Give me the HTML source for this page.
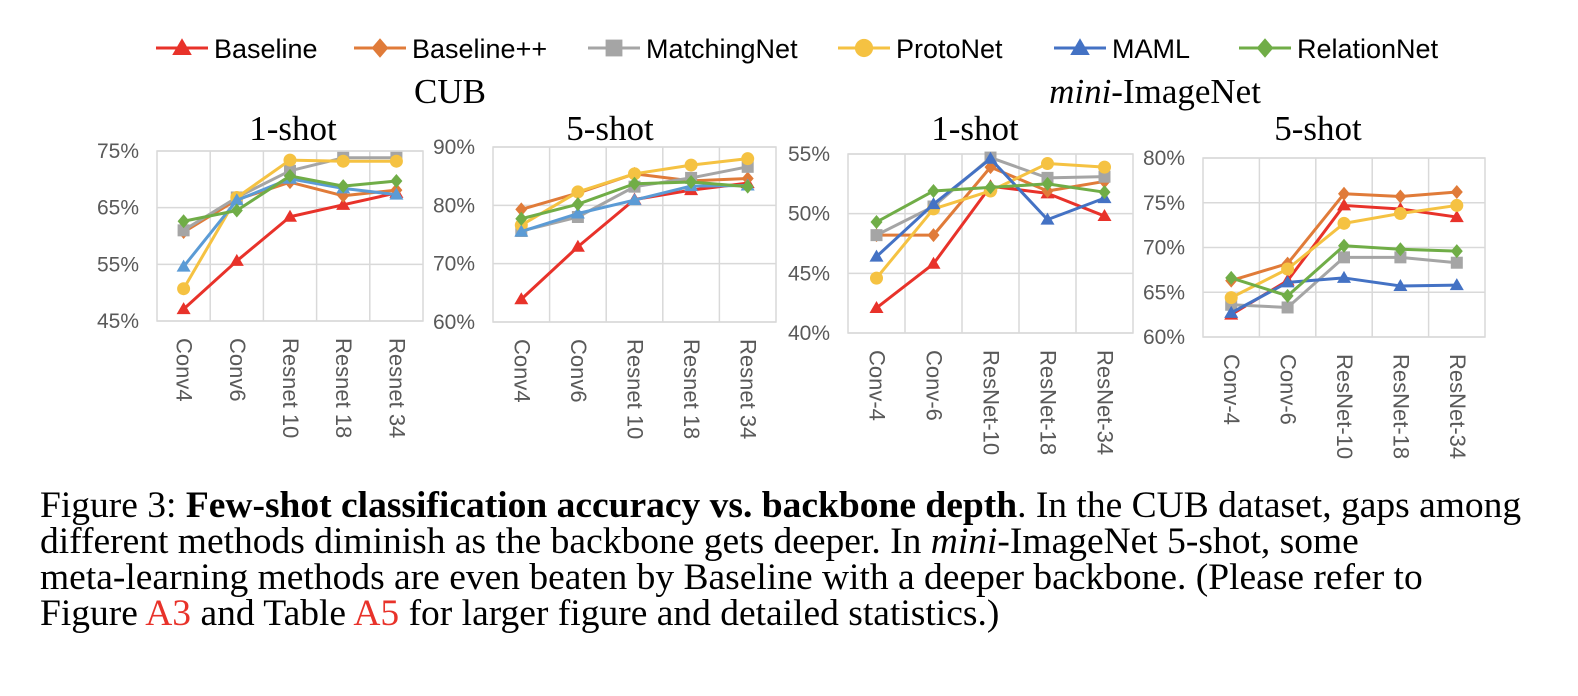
<!DOCTYPE html>
<html><head><meta charset="utf-8">
<style>
body{margin:0;background:#fff;width:1578px;height:696px;overflow:hidden;position:relative}
svg{position:absolute;left:0;top:0}
.cap{position:absolute;left:40px;top:488px;font-family:"Liberation Serif",serif;font-size:37.5px;line-height:36px;color:#000;white-space:nowrap}
.cap div{height:36px}
.red{color:#e8322a}
</style></head>
<body>
<svg id="chart" width="1578" height="470" xmlns="http://www.w3.org/2000/svg"></svg>
<div class="cap">
<div>Figure 3: <b>Few-shot classification accuracy vs. backbone depth</b>. In the CUB dataset, gaps among</div>
<div>different methods diminish as the backbone gets deeper. In <i>mini</i>-ImageNet 5-shot, some</div>
<div>meta-learning methods are even beaten by Baseline with a deeper backbone. (Please refer to</div>
<div>Figure <span class="red">A3</span> and Table <span class="red">A5</span> for larger figure and detailed statistics.)</div>
</div>
<script>
const seriesNames = ["Baseline","Baseline++","MatchingNet","ProtoNet","MAML","RelationNet"];
const cubCats = ["Conv4","Conv6","Resnet 10","Resnet 18","Resnet 34"];
const miniCats = ["Conv-4","Conv-6","ResNet-10","ResNet-18","ResNet-34"];
const cub1Ticks = [45,55,65,75];
const cub5Ticks = [60,70,80,90];
const mini1Ticks = [40,45,50,55];
const mini5Ticks = [60,65,70,75,80];
// CUB 1-shot
const cub1Baseline = [47.1,55.6,63.4,65.5,67.6];
const cub1BaselinePP = [60.7,66.4,69.5,67.1,68.1];
const cub1Matching = [61.0,66.8,71.5,73.8,73.8];
const cub1Proto = [50.7,66.8,73.4,73.2,73.2];
const cub1MAML = [54.6,66.3,70.1,68.4,67.3];
const cub1Relation = [62.6,64.5,70.6,68.8,69.7];
// CUB 5-shot
const cub5Baseline = [63.9,72.9,81.0,82.6,83.8];
const cub5BaselinePP = [79.3,82.1,85.4,84.2,84.6];
const cub5Matching = [75.6,78.0,83.2,84.7,86.6];
const cub5Proto = [76.6,82.3,85.4,86.9,88.0];
const cub5MAML = [75.5,78.6,80.9,83.3,83.4];
const cub5Relation = [77.7,80.2,83.7,84.0,83.2];
// mini 1-shot
const mini1Baseline = [42.1,45.8,52.3,51.7,49.8];
const mini1BaselinePP = [48.2,48.2,53.9,51.9,52.7];
const mini1Matching = [48.2,50.6,54.7,53.0,53.1];
const mini1Proto = [44.6,50.4,51.9,54.2,53.9];
const mini1MAML = [46.4,50.8,54.6,49.5,51.3];
const mini1Relation = [49.3,51.9,52.2,52.5,51.8];
// mini 5-shot
const mini5Baseline = [62.5,66.3,74.7,74.3,73.4];
const mini5BaselinePP = [66.3,68.2,76.0,75.7,76.2];
const mini5Matching = [63.6,63.3,68.9,68.9,68.3];
const mini5Proto = [64.4,67.6,72.7,73.8,74.7];
const mini5MAML = [62.7,66.1,66.6,65.7,65.8];
const mini5Relation = [66.6,64.6,70.2,69.8,69.6];

const NS="http://www.w3.org/2000/svg";
const svg=document.getElementById('chart');
function mk(tag,attrs,parent){const e=document.createElementNS(NS,tag);for(const k in attrs)e.setAttribute(k,attrs[k]);(parent||svg).appendChild(e);return e;}
const markers=["tri","dia","sq","circ","tri","dia"];
function marker(g,type,x,y,c,s){
  s=s||1;let e;
  if(type==="tri") e=mk('polygon',{points:`${x},${y-7*s} ${x-7*s},${y+5*s} ${x+7*s},${y+5*s}`,fill:c},g);
  else if(type==="dia") e=mk('polygon',{points:`${x},${y-7*s} ${x+6*s},${y} ${x},${y+7*s} ${x-6*s},${y}`,fill:c},g);
  else if(type==="sq") e=mk('rect',{x:x-6*s,y:y-6*s,width:12*s,height:12*s,fill:c},g);
  else e=mk('circle',{cx:x,cy:y,r:6.5*s,fill:c},g);
  return e;
}
function panel(id,box,ticks,cats,series,colors){
  const g=mk('g',{});
  
  
  const [x0,x1,yTop,yBot]=box;
  const lo=ticks[0],hi=ticks[ticks.length-1];
  const ys=v=>yBot-(v-lo)/(hi-lo)*(yBot-yTop);
  const n=cats.length,bw=(x1-x0)/n;
  const xs=i=>x0+bw*(i+0.5);
  mk('rect',{x:x0,y:yTop,width:x1-x0,height:yBot-yTop,fill:'none',stroke:'#d9d9d9','stroke-width':1.5},g);
  for(let i=1;i<n;i++) mk('line',{x1:x0+bw*i,x2:x0+bw*i,y1:yTop,y2:yBot,stroke:'#d9d9d9','stroke-width':1.5},g);
  ticks.forEach(t=>{
    mk('line',{x1:x0,x2:x1,y1:ys(t),y2:ys(t),stroke:'#d9d9d9','stroke-width':1.5},g);
    const tx=mk('text',{x:x0-18,y:ys(t)+7,'text-anchor':'end','font-family':'Liberation Sans, sans-serif','font-size':21,fill:'#595959'},g);
    
    
    tx.textContent=t+'%';
  });
  cats.forEach((c,i)=>{
    const tx=mk('text',{x:0,y:0,transform:`translate(${xs(i)-7},${yBot+17}) rotate(90)`,'font-family':'Liberation Sans, sans-serif','font-size':22,fill:'#595959'},g);
    
    
    tx.textContent=c;
  });
  series.forEach((s,k)=>{
    const pl=mk('polyline',{points:s.map((v,i)=>xs(i)+','+ys(v)).join(' '),fill:'none',stroke:colors[k],'stroke-width':3,'stroke-linejoin':'round'},g);
    
    
    s.forEach((v,i)=>{const m=marker(g,markers[k],xs(i),ys(v),colors[k]);
      
      });
  });
}
const cubColors=["#e8322a","#e07b39","#a5a5a5","#f5c242","#5b9bd5","#70ad47"];
const miniColors=["#e8322a","#e07b39","#a5a5a5","#f5c242","#4472c4","#70ad47"];
panel('cub-1shot-chart',[157,423,151,321],cub1Ticks,cubCats,[cub1Baseline,cub1BaselinePP,cub1Matching,cub1Proto,cub1MAML,cub1Relation],cubColors);
panel('cub-5shot-chart',[493,776,147,322],cub5Ticks,cubCats,[cub5Baseline,cub5BaselinePP,cub5Matching,cub5Proto,cub5MAML,cub5Relation],cubColors);
panel('mini-1shot-chart',[848,1133,154,333],mini1Ticks,miniCats,[mini1Baseline,mini1BaselinePP,mini1Matching,mini1Proto,mini1MAML,mini1Relation],miniColors);
panel('mini-5shot-chart',[1203,1485,158,337],mini5Ticks,miniCats,[mini5Baseline,mini5BaselinePP,mini5Matching,mini5Proto,mini5MAML,mini5Relation],miniColors);
// titles
[["CUB",450,103,"cub-title"],["1-shot",293,140,"cub-1shot-title"],["5-shot",610,140,"cub-5shot-title"],["1-shot",975,140,"mini-1shot-title"],["5-shot",1318,140,"mini-5shot-title"]].forEach(t=>{
  const tx=mk('text',{x:t[1],y:t[2],'text-anchor':'middle','font-family':'Liberation Serif, serif','font-size':35,fill:'#000'});
  
  
  tx.textContent=t[0];
});
const mt=mk('text',{x:1155,y:103,'text-anchor':'middle','font-family':'Liberation Serif, serif','font-size':35,fill:'#000'});


mt.innerHTML='<tspan font-style="italic">mini</tspan>-ImageNet';
// legend
const legX=[182,380,614,864,1080,1265];
seriesNames.forEach((s,k)=>{
  const g=mk('g',{});
  
  
  mk('line',{x1:legX[k]-26,x2:legX[k]+26,y1:48,y2:48,stroke:miniColors[k],'stroke-width':3},g);
  marker(g,markers[k],legX[k],48,miniColors[k],1.4);
  const tx=mk('text',{x:legX[k]+32,y:58,'font-family':'Liberation Sans, sans-serif','font-size':27,fill:'#000'},g);
  tx.textContent=s;
});
</script>
</body></html>
